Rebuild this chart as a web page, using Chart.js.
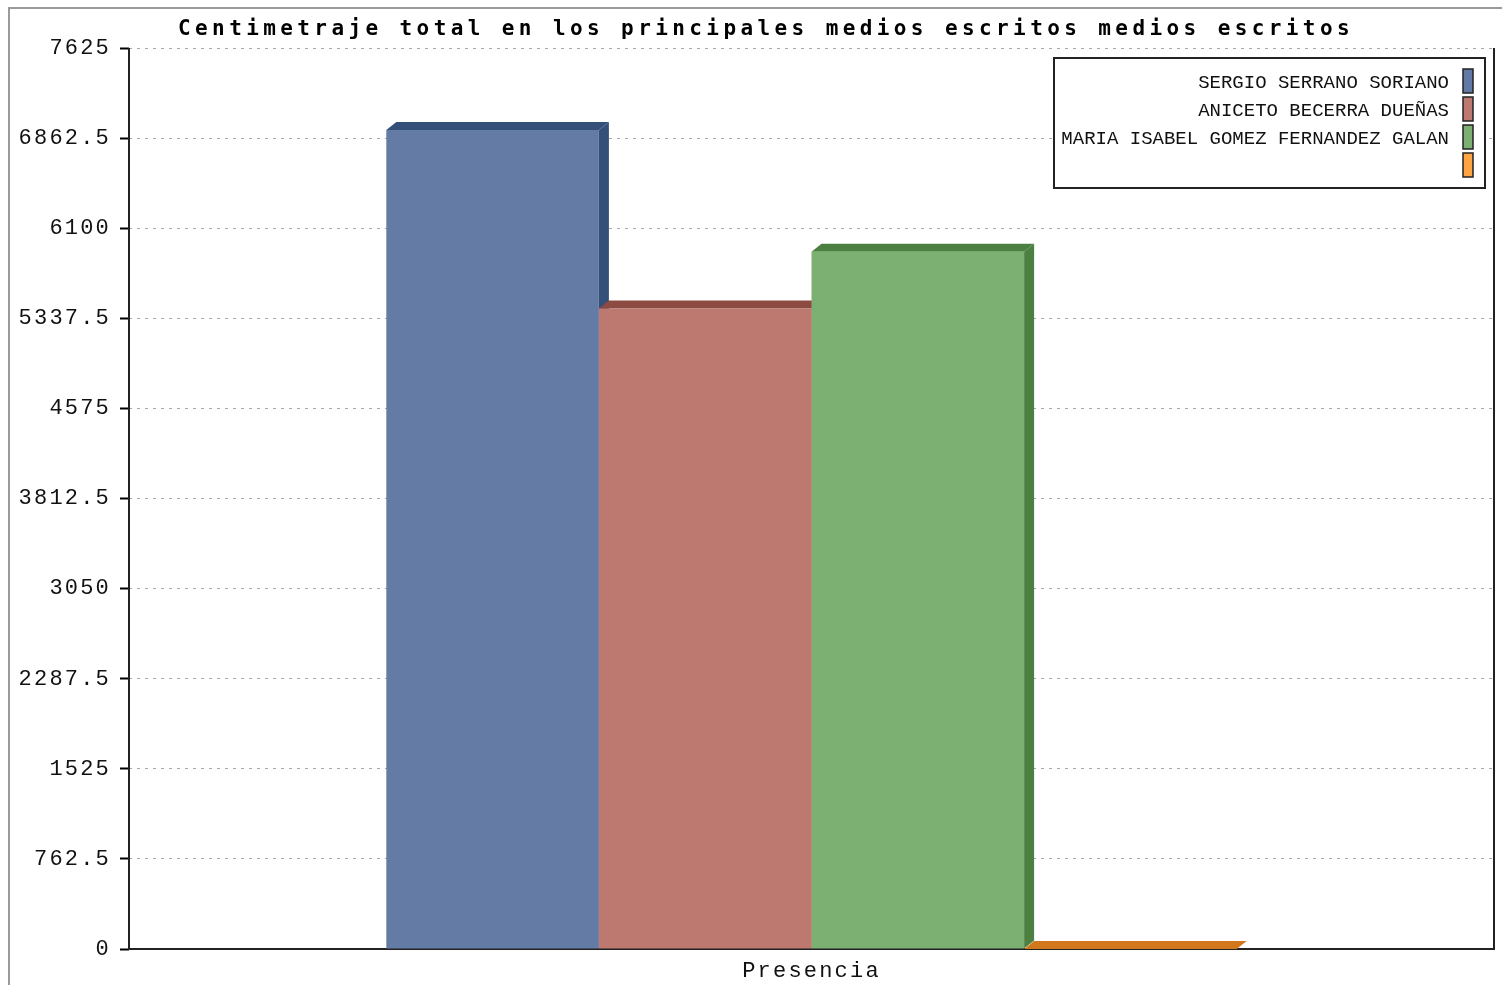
<!DOCTYPE html>
<html>
<head>
<meta charset="utf-8">
<script src="https://cdn.jsdelivr.net/npm/chart.js@4.4.1/dist/chart.umd.min.js"></script>
<style>
  html, body { margin: 0; padding: 0; background: #fff; }
  canvas { display: block; }
</style>
</head>
<body>
<canvas id="chartCentimetraje" width="1502" height="985"></canvas>
<script>
// Datos del gráfico
const titulo = "Centimetraje total en los principales medios escritos medios escritos";
const categorias = ["Presencia"];
const nombres = [
  "SERGIO SERRANO SORIANO",
  "ANICETO BECERRA DUEÑAS",
  "MARIA ISABEL GOMEZ FERNANDEZ GALAN",
  "",
];
const valores = [6930, 5420, 5900, 0];
const ejeMax = 7625;
const ejePaso = 762.5;

// Colores: frente, profundidad (3D), leyenda
const coloresFrente = ["#647ca5", "#bd7870", "#7cb072", "#d1781c"];
const coloresFondo = ["#344f78", "#8d4a42", "#4b8041", "#d1781c"];
const coloresLeyenda = ["#6079a6", "#bd7870", "#7cb072", "#ffa443"];

const MONO = "'Liberation Mono', 'DejaVu Sans Mono', monospace";
const DX = 10, DY = 8;

// Marco, ejes y caras 3D
const fondoPlugin = {
  id: "fondo3d",
  beforeDraw(chart) {
    const ctx = chart.ctx;
    ctx.letterSpacing = "2.2px";
    ctx.save();
    ctx.letterSpacing = "0px";
    ctx.strokeStyle = "#9a9a9a";
    ctx.lineWidth = 2;
    ctx.beginPath();
    ctx.moveTo(1502, 8);
    ctx.lineTo(9, 8);
    ctx.lineTo(9, 985);
    ctx.stroke();
    ctx.restore();
  },
  beforeDatasetsDraw(chart) {
    const ctx = chart.ctx;
    const a = chart.chartArea;
    ctx.save();
    ctx.strokeStyle = "#222";
    ctx.lineWidth = 2;
    ctx.beginPath();
    ctx.moveTo(a.left, a.top);
    ctx.lineTo(a.left, a.bottom);
    ctx.lineTo(a.right, a.bottom);
    ctx.lineTo(a.right, a.top);
    ctx.stroke();

    chart.data.datasets.forEach((ds, i) => {
      const bar = chart.getDatasetMeta(i).data[0];
      if (!bar) return;
      const p = bar.getProps(["x", "y", "base", "width"], true);
      const l = p.x - p.width / 2;
      const r = p.x + p.width / 2;
      ctx.fillStyle = coloresFondo[i];
      // cara superior
      ctx.beginPath();
      ctx.moveTo(l, p.y);
      ctx.lineTo(l + DX, p.y - DY);
      ctx.lineTo(r + DX, p.y - DY);
      ctx.lineTo(r, p.y);
      ctx.closePath();
      ctx.fill();
      // cara lateral
      ctx.beginPath();
      ctx.moveTo(r, p.y);
      ctx.lineTo(r + DX, p.y - DY);
      ctx.lineTo(r + DX, p.base - DY);
      ctx.lineTo(r, p.base);
      ctx.closePath();
      ctx.fill();
    });
    ctx.restore();
  },
  afterDraw(chart) {
    const ctx = chart.ctx;
    ctx.save();
    // título
    ctx.letterSpacing = "4.4px";
    ctx.fillStyle = "#000";
    ctx.font = "bold 21px 'DejaVu Sans Mono', monospace";
    ctx.textAlign = "left";
    ctx.textBaseline = "middle";
    ctx.fillText(titulo, 178, 30);

    // leyenda
    ctx.letterSpacing = "0px";
    ctx.fillStyle = "#fff";
    ctx.fillRect(1054, 58, 431, 130);
    ctx.strokeStyle = "#222";
    ctx.lineWidth = 2;
    ctx.strokeRect(1054, 58, 431, 130);
    ctx.font = "19px " + MONO;
    ctx.textAlign = "right";
    nombres.forEach((n, i) => {
      const cy = 81 + i * 28;
      ctx.fillStyle = coloresLeyenda[i];
      ctx.fillRect(1463, cy - 12, 10, 24);
      ctx.strokeStyle = "#222";
      ctx.lineWidth = 1.5;
      ctx.strokeRect(1463, cy - 12, 10, 24);
      ctx.fillStyle = "#111";
      ctx.fillText(n, 1449, cy + 2);
    });
    ctx.restore();
  },
};

new Chart(document.getElementById("chartCentimetraje"), {
  type: "bar",
  data: {
    labels: categorias,
    datasets: nombres.map((n, i) => ({
      label: n,
      data: [valores[i]],
      backgroundColor: coloresFrente[i],
      borderWidth: 0,
      barPercentage: 1,
      categoryPercentage: 0.623,
    })),
  },
  options: {
    responsive: false,
    animation: false,
    devicePixelRatio: 1,
    layout: { padding: { top: 48, right: 8, left: 0, bottom: 0 } },
    plugins: {
      legend: { display: false },
      title: { display: false },
      tooltip: { enabled: false },
    },
    scales: {
      x: {
        grid: { display: false },
        border: { display: false },
        ticks: {
          color: "#111",
          font: { family: MONO, size: 22 },
          padding: 1,
        },
        afterFit(scale) { scale.height = 36; },
      },
      y: {
        min: 0,
        max: ejeMax,
        border: { display: false, dash: [3, 5] },
        grid: {
          color: "#a8a8a8",
          lineWidth: 1,
          tickColor: "#000",
          tickLength: 9,
          tickWidth: 2,
          tickBorderDash: [],
        },
        ticks: {
          stepSize: ejePaso,
          color: "#111",
          font: { family: MONO, size: 22 },
          padding: 9,
          callback: (v) => String(Math.round(v * 10) / 10),
        },
        afterFit(scale) { scale.width = 129; },
      },
    },
  },
  plugins: [fondoPlugin],
});
</script>
</body>
</html>
